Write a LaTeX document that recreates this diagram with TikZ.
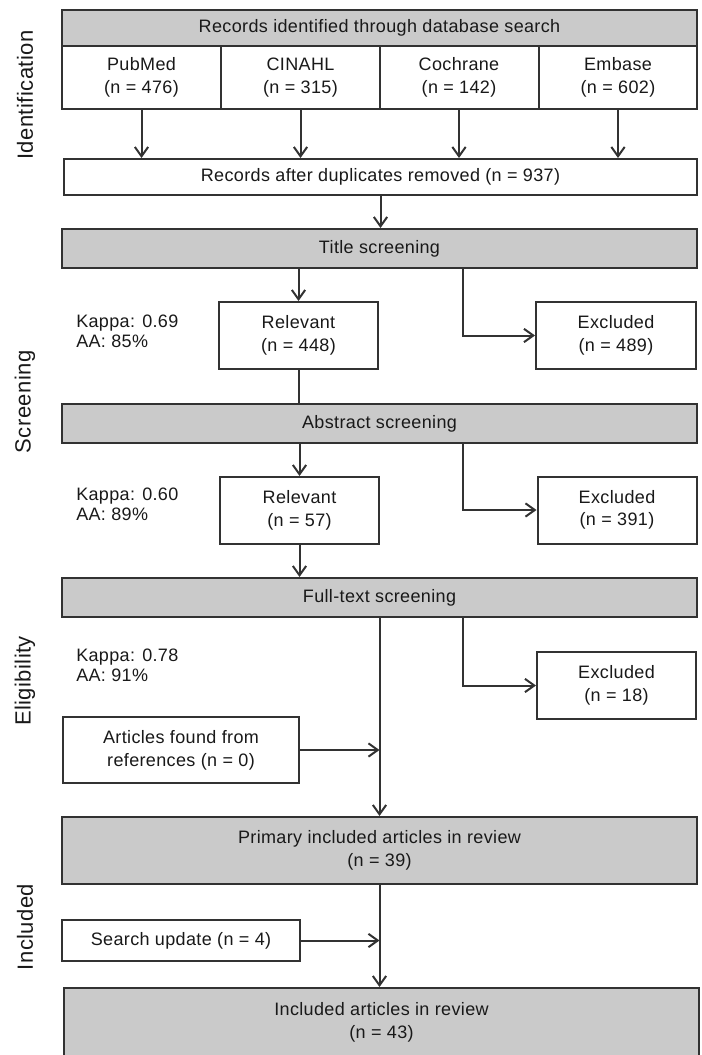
\documentclass[tikz,border=0pt]{standalone}
\usepackage{fontspec}
\setmainfont{Liberation Sans}[LetterSpace=2]
\usepackage{xcolor}
\usetikzlibrary{arrows.meta,positioning,calc}
\definecolor{linegray}{RGB}{50,50,50}
\definecolor{fillgray}{RGB}{202,202,202}
\newcommand{\px}{0.75pt}

\begin{document}
\begin{tikzpicture}[x=0.75pt,y=-0.75pt,>={Straight Barb[length=7pt,width=10pt]},
  box/.style={draw=linegray,line width=1.5pt,fill=white,inner sep=0pt,align=center,
              text=black!90,font=\fontsize{13.5}{17}\selectfont},
  graybox/.style={box,fill=fillgray},
  stage/.style={rotate=90,text=black!90,font=\fontsize{16.5}{19}\selectfont},
  note/.style={anchor=west,inner sep=0pt,align=left,text=black!90,
               font=\fontsize{13.5}{15}\selectfont},
  link/.style={draw=linegray,line width=1.5pt}]
  \useasboundingbox (0,0) rectangle (702,1055);

  \node[stage] (idf) at (25,95) {Identification};
  \node[stage] (scr) at (25,402) {Screening};
  \node[stage] (elg) at (25,681) {Eligibility};
  \node[stage] (inc) at (25,927) {Included};

  \node[graybox,minimum width=635*\px,minimum height=36*\px] (head) at (379.5,28)
       {Records identified through database search};
  \node[box,minimum width=159*\px,minimum height=63*\px] (pub) at (141.5,77.5) {PubMed\\(n = 476)};
  \node[box,minimum width=159*\px,minimum height=63*\px] (cin) at (300.5,77.5) {CINAHL\\(n = 315)};
  \node[box,minimum width=159*\px,minimum height=63*\px] (coc) at (459,77.5) {Cochrane\\(n = 142)};
  \node[box,minimum width=158*\px,minimum height=63*\px] (emb) at (618,77.5) {Embase\\(n = 602)};
  \node[box,minimum width=633*\px,minimum height=36*\px] (dup) at (380.5,177)
       {Records after duplicates removed (n = 937)};

  \node[graybox,minimum width=635*\px,minimum height=39*\px] (title) at (379.5,248.5) {Title screening};
  \node[box,minimum width=159*\px,minimum height=67*\px] (rel1) at (298.5,335.5) {Relevant\\(n = 448)};
  \node[box,minimum width=160*\px,minimum height=67*\px] (exc1) at (616,335.5) {Excluded\\(n = 489)};
  \node[note] (kap1) at (76,331) {Kappa: 0.69\\AA: 85\%};

  \node[graybox,minimum width=635*\px,minimum height=39*\px] (abs) at (379.5,423.5) {Abstract screening};
  \node[box,minimum width=159*\px,minimum height=67*\px] (rel2) at (299.5,510.5) {Relevant\\(n = 57)};
  \node[box,minimum width=159*\px,minimum height=67*\px] (exc2) at (617,510) {Excluded\\(n = 391)};
  \node[note] (kap2) at (76,504) {Kappa: 0.60\\AA: 89\%};

  \node[graybox,minimum width=635*\px,minimum height=39*\px] (full) at (379.5,597.5) {Full-text screening};
  \node[box,minimum width=159*\px,minimum height=67*\px] (exc3) at (616.5,685.5) {Excluded\\(n = 18)};
  \node[note] (kap3) at (76,665) {Kappa: 0.78\\AA: 91\%};
  \node[box,minimum width=236*\px,minimum height=66*\px] (refs) at (181,750)
       {Articles found from\\references (n = 0)};

  \node[graybox,minimum width=635*\px,minimum height=67*\px] (prim) at (379.5,850.5)
       {Primary included articles in review\\(n = 39)};
  \node[box,minimum width=238*\px,minimum height=41*\px] (upd) at (181,940.5) {Search update (n = 4)};
  \node[graybox,minimum width=635*\px,minimum height=68*\px] (incl) at (381.5,1022)
       {Included articles in review\\(n = 43)};

  \coordinate (branch) at (462.5,0);

  \foreach \db in {pub,cin,coc,emb}
    \draw[link,->] (\db.south) -- (\db.south |- dup.north);
  \draw[link,->] (dup.south) -- (dup.south |- title.north);

  \draw[link,->] (title.south -| rel1.north) -- (rel1.north);
  \draw[link,->] (title.south -| branch) |- (exc1.west);
  \draw[link] (rel1.south) -- (rel1.south |- abs.north);

  \draw[link,->] (abs.south -| rel2.north) -- (rel2.north);
  \draw[link,->] (abs.south -| branch) |- (exc2.west);
  \draw[link,->] (rel2.south) -- (rel2.south |- full.north);

  \draw[link,->] (full.south -| branch) |- (exc3.west);
  \draw[link,->] (full.south) -- (prim.north);
  \draw[link,->] (refs.east) -- (refs.east -| full.south);

  \draw[link,->] (prim.south) -- (prim.south |- incl.north);
  \draw[link,->] (upd.east) -- (upd.east -| prim.south);
\end{tikzpicture}
\end{document}
